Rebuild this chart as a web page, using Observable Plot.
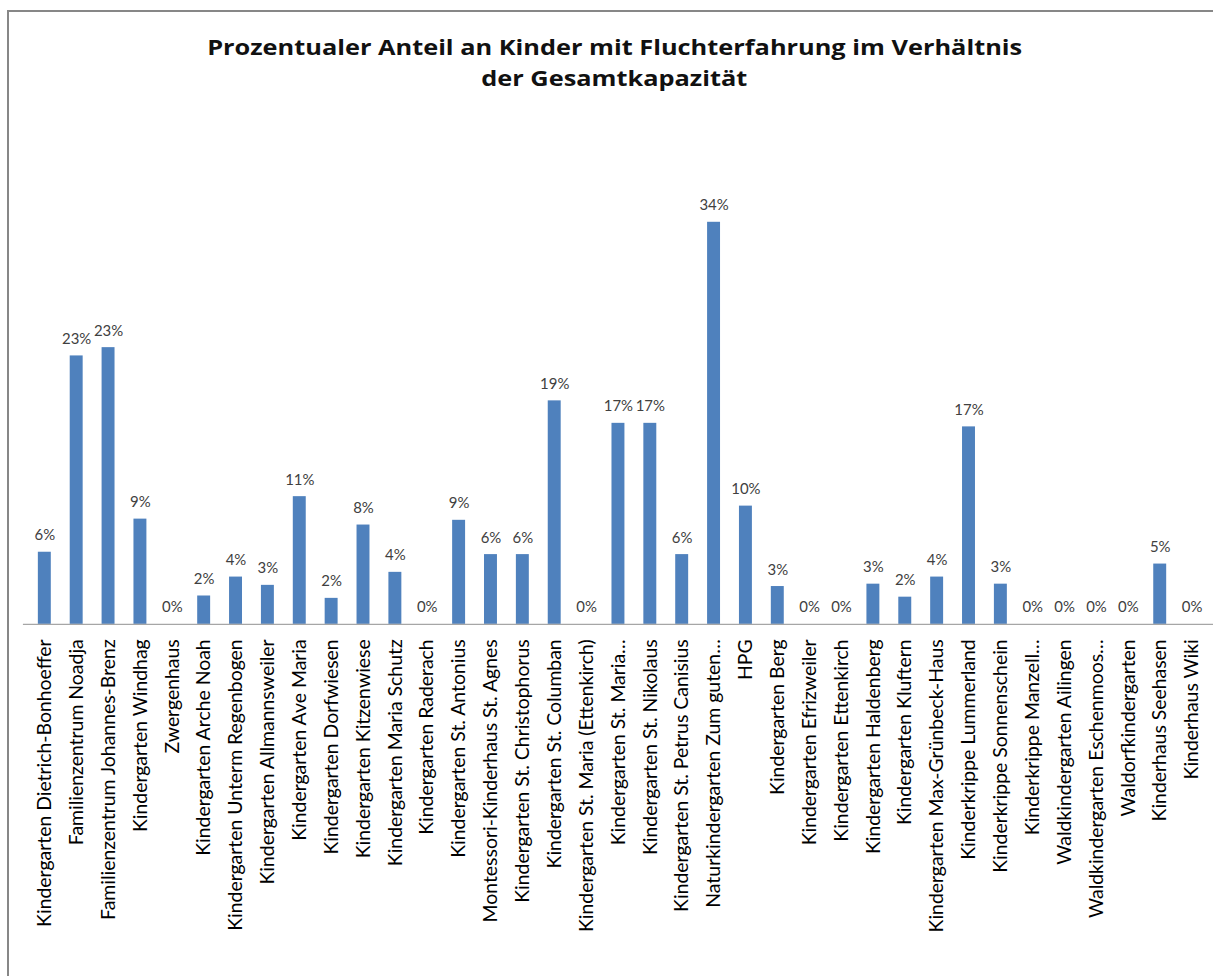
<!DOCTYPE html>
<html>
<head>
<meta charset="utf-8">
<script src="https://cdn.jsdelivr.net/npm/d3@7"></script>
<script src="https://cdn.jsdelivr.net/npm/@observablehq/plot@0.6"></script>
<style>
  html, body { margin: 0; padding: 0; background: #fff; overflow: hidden; width: 1213px; height: 976px; }
  #frame { position: absolute; left: 7px; top: 10px; width: 1300px; height: 1100px;
           border-left: 2px solid #878787; border-top: 2px solid #878787; box-sizing: border-box; }
  #title { position: absolute; left: 0; top: 32px; width: 1229px; text-align: center;
           font-family: "Open Sans", Lato, sans-serif; font-weight: bold; font-size: 21px;
           line-height: 31px; color: #111; }
  #title span { display: inline-block; transform-origin: 50% 50%; white-space: nowrap; }
  #chart { position: absolute; left: 0; top: 110px; }
</style>
</head>
<body>
<div id="frame"></div>
<div id="title"><span id="t1">Prozentualer Anteil an Kinder mit Fluchterfahrung im Verhältnis</span><br><span id="t2">der Gesamtkapazität</span></div>
<div id="chart"></div>
<script>
const categories = [
  "Kindergarten Dietrich-Bonhoeffer",
  "Familienzentrum Noadja",
  "Familienzentrum Johannes-Brenz",
  "Kindergarten Windhag",
  "Zwergenhaus",
  "Kindergarten Arche Noah",
  "Kindergarten Unterm Regenbogen",
  "Kindergarten Allmannsweiler",
  "Kindergarten Ave Maria",
  "Kindergarten Dorfwiesen",
  "Kindergarten Kitzenwiese",
  "Kindergarten Maria Schutz",
  "Kindergarten Raderach",
  "Kindergarten St. Antonius",
  "Montessori-Kinderhaus St. Agnes",
  "Kindergarten St. Christophorus",
  "Kindergarten St. Columban",
  "Kindergarten St. Maria (Ettenkirch)",
  "Kindergarten St. Maria…",
  "Kindergarten St. Nikolaus",
  "Kindergarten St. Petrus Canisius",
  "Naturkindergarten Zum guten…",
  "HPG",
  "Kindergarten Berg",
  "Kindergarten Efrizweiler",
  "Kindergarten Ettenkirch",
  "Kindergarten Haldenberg",
  "Kindergarten Kluftern",
  "Kindergarten Max-Grünbeck-Haus",
  "Kinderkrippe Lummerland",
  "Kinderkrippe Sonnenschein",
  "Kinderkrippe Manzell…",
  "Waldkindergarten Ailingen",
  "Waldkindergarten Eschenmoos…",
  "Waldorfkindergarten",
  "Kinderhaus Seehasen",
  "Kinderhaus Wiki"
];
const shares = [
  0.061, 0.227, 0.234, 0.089, 0.000, 0.024, 0.040, 0.033, 0.108, 0.022,
  0.084, 0.044, 0.000, 0.088, 0.059, 0.059, 0.189, 0.000, 0.170, 0.170,
  0.059, 0.340, 0.100, 0.032, 0.000, 0.000, 0.034, 0.023, 0.040, 0.167,
  0.034, 0.000, 0.000, 0.000, 0.000, 0.051, 0.000
];

const data = categories.map((name, i) => ({name, value: shares[i]}));
const pct = d3.format(".0%");
const FONT = "Lato, 'Open Sans', sans-serif";

const plot = Plot.plot({
  width: 1218,
  height: 866,
  marginLeft: 23,
  marginRight: 0,
  marginTop: 41,
  marginBottom: 350,
  style: {background: "transparent", fontFamily: FONT, overflow: "visible"},
  x: {domain: categories, paddingInner: 0.6, paddingOuter: 0.3, label: null},
  y: {domain: [0, 0.4], axis: null},
  marks: [
    Plot.barY(data, {x: "name", y: "value", fill: "#4F81BD"}),
    Plot.ruleY([0], {stroke: "#A6A6A6", strokeWidth: 1.3}),
    Plot.text(data, {x: "name", y: "value", text: d => pct(d.value), lineAnchor: "bottom",
                     dy: -12, fontSize: 15, fill: "#404040", fontFamily: FONT}),
    Plot.axisX({tickRotate: -90, tickSize: 0, tickPadding: 15, fontSize: 19.5,
                fill: "#000", label: null, fontFamily: FONT})
  ]
});
document.getElementById("chart").appendChild(plot);

// stretch title to the reference's measured width
const t1 = document.getElementById("t1"), t2 = document.getElementById("t2");
const w = t1.getBoundingClientRect().width;
const k = 815 / w;
t1.style.transform = `scaleX(${k})`;
t2.style.transform = `scaleX(${k})`;
</script>
</body>
</html>
